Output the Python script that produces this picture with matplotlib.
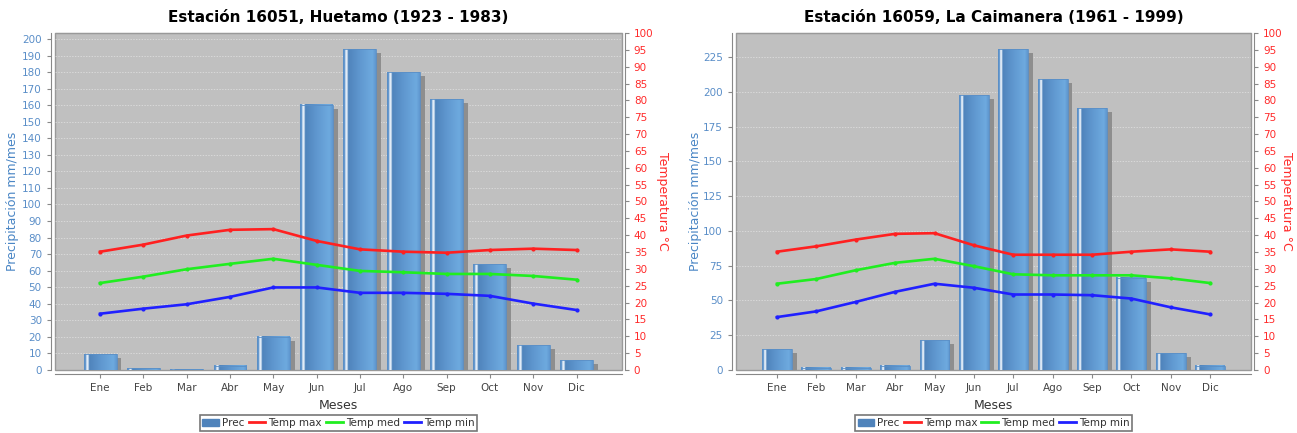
import matplotlib
matplotlib.use("Agg")
import matplotlib.pyplot as plt
import numpy as np
from matplotlib.colors import LinearSegmentedColormap
from matplotlib.transforms import ScaledTranslation
from matplotlib.patches import Patch
from matplotlib.lines import Line2D

plt.rcParams['font.family'] = ['DejaVu Sans']

meses = ["Ene", "Feb", "Mar", "Abr", "May", "Jun", "Jul", "Ago", "Sep", "Oct", "Nov", "Dic"]

# Estación 16051, Huetamo
titulo_1 = "Estación 16051, Huetamo (1923 - 1983)"
prec_1 = [9.5, 1.0, 0.6, 2.6, 20.0, 160.2, 193.8, 180.0, 163.5, 64.0, 15.0, 6.0]
tmax_1 = [35.1, 37.2, 39.9, 41.6, 41.8, 38.3, 35.8, 35.1, 34.8, 35.6, 36.0, 35.6]
tmed_1 = [25.8, 27.7, 29.9, 31.5, 33.0, 31.2, 29.4, 29.0, 28.5, 28.5, 27.9, 26.8]
tmin_1 = [16.7, 18.2, 19.5, 21.7, 24.5, 24.5, 22.9, 22.9, 22.6, 22.0, 19.7, 17.8]

# Estación 16059, La Caimanera
titulo_2 = "Estación 16059, La Caimanera (1961 - 1999)"
prec_2 = [14.8, 1.7, 1.7, 2.9, 21.3, 197.6, 230.6, 209.3, 188.3, 66.5, 12.0, 2.9]
tmax_2 = [35.1, 36.7, 38.7, 40.4, 40.6, 37.0, 34.2, 34.2, 34.2, 35.1, 35.8, 35.1]
tmed_2 = [25.6, 27.0, 29.6, 31.8, 33.0, 30.8, 28.4, 28.1, 28.1, 28.1, 27.2, 25.8]
tmin_2 = [15.7, 17.4, 20.2, 23.2, 25.6, 24.4, 22.4, 22.4, 22.2, 21.2, 18.6, 16.5]

BLUE_TXT = "#5a8ec8"
RED_TXT = "#ff2a2a"
bar_cmap = LinearSegmentedColormap.from_list("bar", [
    (0.00, "#5d93cb"), (0.05, "#5d93cb"), (0.07, "#e4eef8"), (0.12, "#e4eef8"),
    (0.15, "#4f83bb"), (0.50, "#5f97cf"), (0.90, "#6eaadf"), (1.00, "#5f97cf")])


def draw_chart(fig, rect, titulo, prec, tmax, tmed, tmin, ylim, ystep, xl, xr):
    ax = fig.add_axes(rect)
    ax.set_facecolor("#c0c0c0")
    x = np.arange(len(meses))
    w = 0.76

    # shadow of the bars
    off = ScaledTranslation(4 / 100, -4 / 100, fig.dpi_scale_trans)
    ax.bar(x + 0.02, prec, width=w, color="#8e8e8e", zorder=1.5,
           transform=ax.transData + off)
    grad = np.linspace(0, 1, 64).reshape(1, -1)
    for xi, h in zip(x, prec):
        ax.imshow(grad, extent=(xi - w / 2, xi + w / 2, 0, h), aspect="auto",
                  cmap=bar_cmap, zorder=2, interpolation="bilinear")
    ax.bar(x, prec, width=w, color="none", edgecolor="#5b8fc6", linewidth=0.6, zorder=2.1)

    ax.set_xlim(-1.04, 12.05)
    ax.set_ylim(0, ylim)
    ax.set_yticks(np.arange(0, ylim, ystep))
    ax.set_xticks(x)
    ax.set_xticklabels(meses)
    ax.set_axisbelow(True)
    ax.yaxis.grid(True, color="#ececec", linestyle=(0, (2, 2)), linewidth=0.5, alpha=0.8)
    ax.tick_params(axis="y", colors="#888888", labelcolor=BLUE_TXT, labelsize=7.5, length=3)
    ax.tick_params(axis="x", colors="#888888", labelcolor="#444444", labelsize=7.5, length=3)
    for s in ["left", "bottom"]:
        ax.spines[s].set_position(("outward", 3))
        ax.spines[s].set_color("#888888")
    ax.spines["top"].set_color("#999999")
    ax.spines["right"].set_visible(False)
    ax.patch.set_edgecolor("#999999")
    ax.patch.set_linewidth(1)
    ax.set_xlabel("Meses", color="#333333", fontsize=9, labelpad=4)
    ax.set_title(titulo, fontsize=11, fontweight="bold", pad=8)
    fig.text(xl, rect[1] + rect[3] / 2, "Precipitación mm/mes", color="#4a86c5",
             fontsize=9, rotation=90, ha="center", va="center")

    ax2 = ax.twinx()
    ax2.set_ylim(0, 100)
    ax2.set_yticks(np.arange(0, 101, 5))
    ax2.plot(x, tmax, color="#ff2020", lw=1.9, marker="o", ms=2, zorder=3)
    ax2.plot(x, tmed, color="#20ee20", lw=1.9, marker="o", ms=2, zorder=3)
    ax2.plot(x, tmin, color="#2020ff", lw=1.9, marker="o", ms=2, zorder=3)
    ax2.tick_params(axis="y", colors="#888888", labelcolor=RED_TXT, labelsize=7.5, length=3)
    ax2.spines["right"].set_color("#888888")
    ax2.spines["right"].set_position(("outward", 2))
    for s in ["left", "top", "bottom"]:
        ax2.spines[s].set_visible(False)
    fig.text(xr, rect[1] + rect[3] / 2, "Temperatura °C", color=RED_TXT,
             fontsize=9, rotation=270, ha="center", va="center")

    handles = [Patch(facecolor="#4f83bb", edgecolor="#4f83bb", label="Prec"),
               Line2D([], [], color="#ff2020", lw=2, label="Temp max"),
               Line2D([], [], color="#20ee20", lw=2, label="Temp med"),
               Line2D([], [], color="#2020ff", lw=2, label="Temp min")]
    cx = rect[0] + rect[2] / 2
    leg = fig.legend(handles=handles, loc="center", bbox_to_anchor=(cx, 0.023), ncol=4,
                     fontsize=7.5, frameon=True, fancybox=False, handlelength=1.6,
                     handletextpad=0.3, columnspacing=0.4, borderpad=0.25,
                     handleheight=0.7, labelcolor="#333333")
    leg.get_frame().set_edgecolor("#555555")
    leg.get_frame().set_linewidth(1.2)
    return ax


fig = plt.figure(figsize=(12.97, 4.33), dpi=100)
draw_chart(fig, [0.0424, 0.1455, 0.4372, 0.7783], titulo_1, prec_1, tmax_1, tmed_1, tmin_1,
           203.6, 10, 13 / 1297, 662 / 1297)
draw_chart(fig, [0.5675, 0.1455, 0.3974, 0.7783], titulo_2, prec_2, tmax_2, tmed_2, tmin_2,
           242.4, 25, 695 / 1297, 1287 / 1297)
fig.savefig("out.png", dpi=100)
